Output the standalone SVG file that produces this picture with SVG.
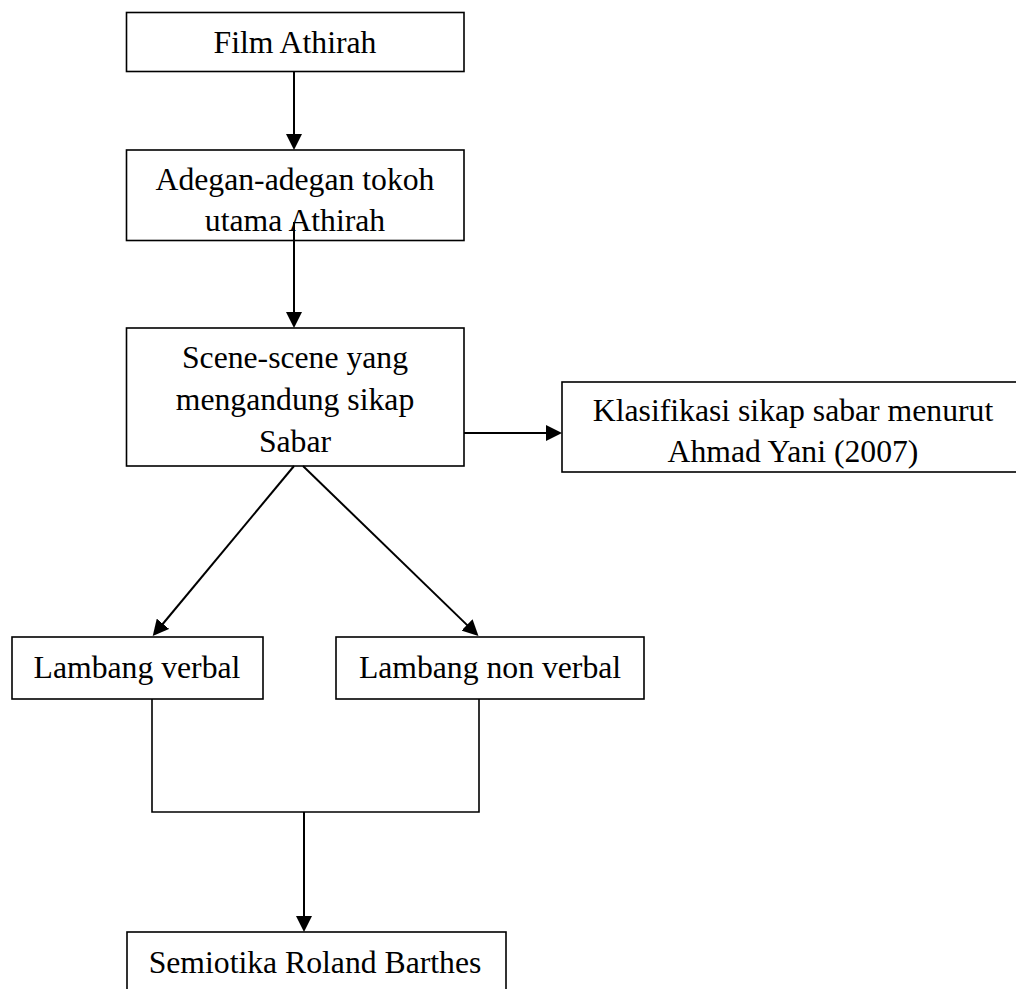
<svg xmlns="http://www.w3.org/2000/svg" width="1016" height="989" viewBox="0 0 1016 989">
<style>
.box{fill:#fff;stroke:#000;stroke-width:1.6}
.t{font-family:"Liberation Serif","Times New Roman",serif;font-size:31.7px;fill:#000;text-anchor:middle}
.c{fill:none;stroke:#000;stroke-width:2}
.c2{fill:none;stroke:#000;stroke-width:1.6}
</style>
<defs>
<marker id="ah" markerUnits="userSpaceOnUse" viewBox="0 0 16 16" refX="1" refY="8" markerWidth="16" markerHeight="16" orient="auto">
<path d="M0,0 L16,8 L0,16 z" fill="#000"/>
</marker>
</defs>
<rect width="1016" height="989" fill="#fff"/>
<g id="film">
<rect class="box" x="126.5" y="12.5" width="337.5" height="59"/>
<text class="t" x="295" y="53">Film Athirah</text>
</g>
<g id="adegan">
<rect class="box" x="126.5" y="150" width="337.5" height="90.5"/>
<text class="t" x="295" y="190">Adegan-adegan tokoh</text>
<text class="t" x="295" y="231">utama Athirah</text>
</g>
<g id="scene">
<rect class="box" x="126.5" y="328" width="337.5" height="138"/>
<text class="t" x="295" y="368">Scene-scene yang</text>
<text class="t" x="295" y="410">mengandung sikap</text>
<text class="t" x="295" y="452">Sabar</text>
</g>
<g id="klasifikasi">
<rect class="box" x="562" y="382" width="462" height="90"/>
<text class="t" x="793" y="421">Klasifikasi sikap sabar menurut</text>
<text class="t" x="793" y="462">Ahmad Yani (2007)</text>
</g>
<g id="verbal">
<rect class="box" x="12" y="637" width="251" height="62"/>
<text class="t" x="137" y="678">Lambang verbal</text>
</g>
<g id="nonverbal">
<rect class="box" x="336" y="637" width="308" height="62"/>
<text class="t" x="490" y="678">Lambang non verbal</text>
</g>
<g id="semiotika">
<rect class="box" x="127" y="932" width="379" height="70"/>
<text class="t" x="315" y="973">Semiotika Roland Barthes</text>
</g>
<g id="connectors">
<line class="c" x1="294" y1="72" x2="294" y2="135" marker-end="url(#ah)"/>
<line class="c" x1="294" y1="222" x2="294" y2="313" marker-end="url(#ah)"/>
<line class="c" x1="464" y1="433" x2="547" y2="433" marker-end="url(#ah)"/>
<line class="c" x1="294" y1="466" x2="162.3" y2="624.5" marker-end="url(#ah)"/>
<line class="c" x1="303" y1="466" x2="467.7" y2="625.6" marker-end="url(#ah)"/>
<polyline class="c2" points="152,699 152,812 479,812 479,699"/>
<line class="c" x1="304" y1="812" x2="304" y2="917" marker-end="url(#ah)"/>
</g>
</svg>
